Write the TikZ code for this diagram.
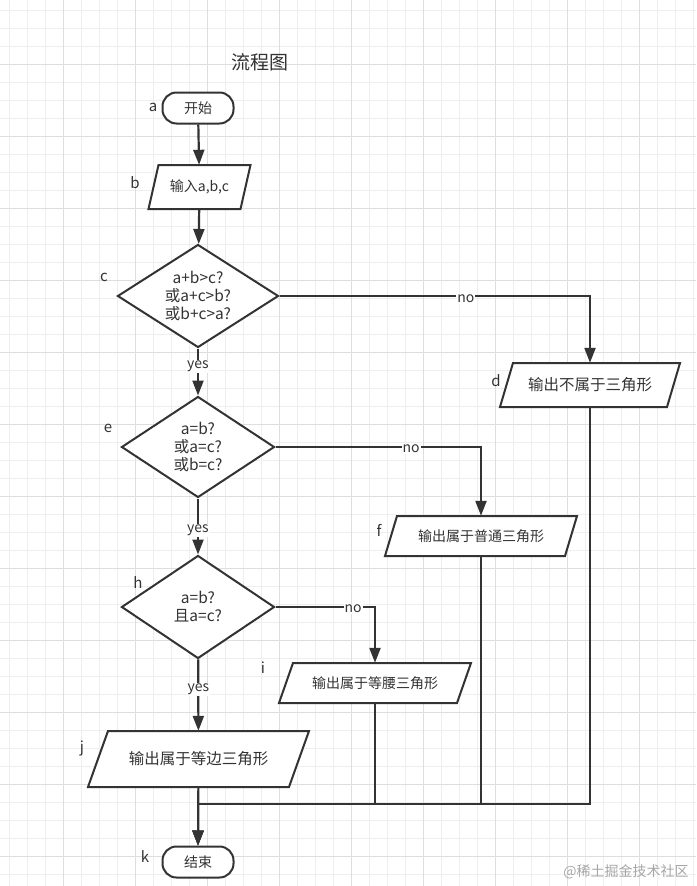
\documentclass[tikz,border=0pt]{standalone}
\usepackage{fontspec}
\setmainfont{Noto Sans CJK SC}
\usetikzlibrary{shapes.geometric,arrows.meta,calc,positioning}

\definecolor{linegray}{HTML}{333333}
\definecolor{gridminor}{HTML}{EEEEEE}
\definecolor{gridmajor}{HTML}{DEDEDE}

\tikzset{
  base/.style={draw=linegray, line width=2pt, text=linegray, fill=white,
    font=\fontsize{14}{18}\selectfont},
  terminal/.style={base, rectangle, rounded corners=14pt,
    minimum width=71pt, minimum height=31pt},
  decision/.style={base, diamond, aspect=1.6, inner sep=0pt, align=center,
    font=\fontsize{15.5}{18}\selectfont},
  iotext/.style={text=linegray, inner sep=0pt, font=\fontsize{14}{18}\selectfont},
  ioline/.style={draw=linegray, line width=2pt, fill=white},
  tag/.style={text=linegray, font=\fontsize{15}{18}\selectfont},
  answer/.style={fill=white, text=linegray, inner sep=1pt,
    font=\fontsize{14}{18}\selectfont},
  flow/.style={draw=linegray, line width=2.2pt, -{Triangle[length=15pt,width=11pt]}},
  grid minor/.style={draw=gridminor, line width=0.8pt},
  grid major/.style={draw=gridmajor, line width=0.9pt},
}

% Ein-/Ausgabe als Parallelogramm: Name, Mitte, Breite, Hoehe, halber Versatz, Text
\newcommand{\iobox}[6]{%
  \draw[ioline] ($#2+(-#3/2+#5,-#4/2)$) -- ++(#3,0) -- ++(-2*#5,#4) -- ++(-#3,0) -- cycle;
  \node[iotext, minimum width=#3, minimum height=#4] (#1) at #2 {#6};
}
\newcommand{\bigtxt}{\fontsize{15.5}{18}\selectfont}

\begin{document}
\begin{tikzpicture}[x=1pt, y=-1pt]
  \useasboundingbox (0,0) rectangle (696,886);
  \fill[white] (0,0) rectangle (696,886);

  % Raster
  \foreach \gx in {0,...,38} \draw[grid minor] (9.5+18*\gx,0) -- (9.5+18*\gx,886);
  \foreach \gy in {0,...,48} \draw[grid minor] (0,10+18*\gy) -- (696,10+18*\gy);
  \foreach \gx in {0,...,9} \draw[grid major] (63.5+72*\gx,0) -- (63.5+72*\gx,886);
  \foreach \gy in {0,...,11} \draw[grid major] (0,64+72*\gy) -- (696,64+72*\gy);

  % Titel
  \node[text=linegray, font=\fontsize{19}{22}\selectfont] (title) at (260,62) {流程图};

  % Knoten
  \node[terminal] (start) at (198,108) {开始};
  \iobox{input}{(199.5,187)}{92}{44}{5}{输入a,b,c}
  \node[decision, minimum width=161pt, minimum height=103pt] (tri) at (198,296)
    {a+b>c?\\或a+c>b?\\或b+c>a?};
  \iobox{nottri}{(590,385)}{167}{44}{6.5}{\bigtxt 输出不属于三角形}
  \node[decision, minimum width=153pt, minimum height=101pt] (equal) at (198,447)
    {a=b?\\或a=c?\\或b=c?};
  \iobox{plain}{(481,536)}{180}{40}{6}{输出属于普通三角形}
  \node[decision, minimum width=153pt, minimum height=103pt] (equi) at (198,607)
    {a=b?\\且a=c?};
  \iobox{iso}{(375,683)}{178}{40}{7}{输出属于等腰三角形}
  \iobox{eqbox}{(198.5,759)}{201}{56}{10}{\bigtxt 输出属于等边三角形}
  \node[terminal] (end) at (198,862) {结束};

  % Buchstaben
  \node[tag] (tag a) at (153,107) {a};
  \node[tag] (tag b) at (135,183) {b};
  \node[tag] (tag c) at (104,277) {c};
  \node[tag] (tag d) at (496,381) {d};
  \node[tag] (tag e) at (108,428) {e};
  \node[tag] (tag f) at (379,530) {f};
  \node[tag] (tag h) at (138,583) {h};
  \node[tag] (tag i) at (263,668) {i};
  \node[tag] (tag j) at (82,748) {j};
  \node[tag] (tag k) at (145,857) {k};

  % Verbindungen
  \draw[flow] (start) -- (input);
  \draw[flow] (input) -- (tri);
  \draw[flow] (tri) -- node[answer, pos=0.38] {yes} (equal);
  \draw[flow] (equal) -- node[answer, pos=0.57] {yes} (equi);
  \draw[flow] (equi) -- node[answer, pos=0.42] {yes} (eqbox);
  \draw[flow] (tri.east) -| node[answer, pos=0.3, yshift=-3pt] {no} (nottri.north);
  \draw[flow] (equal.east) -| node[answer, pos=0.33, yshift=-2pt] {no} (plain.north);
  \draw[flow] (equi.east) -| node[answer, pos=0.39, yshift=-2pt] {no} (iso.north);

  % Zusammenfuehrung
  \coordinate (merge) at (198,804);
  \draw[flow] (nottri.south) |- (merge) -- (end.north);
  \draw[flow] (plain.south) |- (merge) -- (end.north);
  \draw[flow] (iso.south) |- (merge) -- (end.north);
  \draw[flow] (eqbox) -- (end);

  % Wasserzeichen
  \node[text=black!35, font=\fontsize{14}{16}\selectfont] (mark) at (626,872) {@稀土掘金技术社区};
\end{tikzpicture}
\end{document}
